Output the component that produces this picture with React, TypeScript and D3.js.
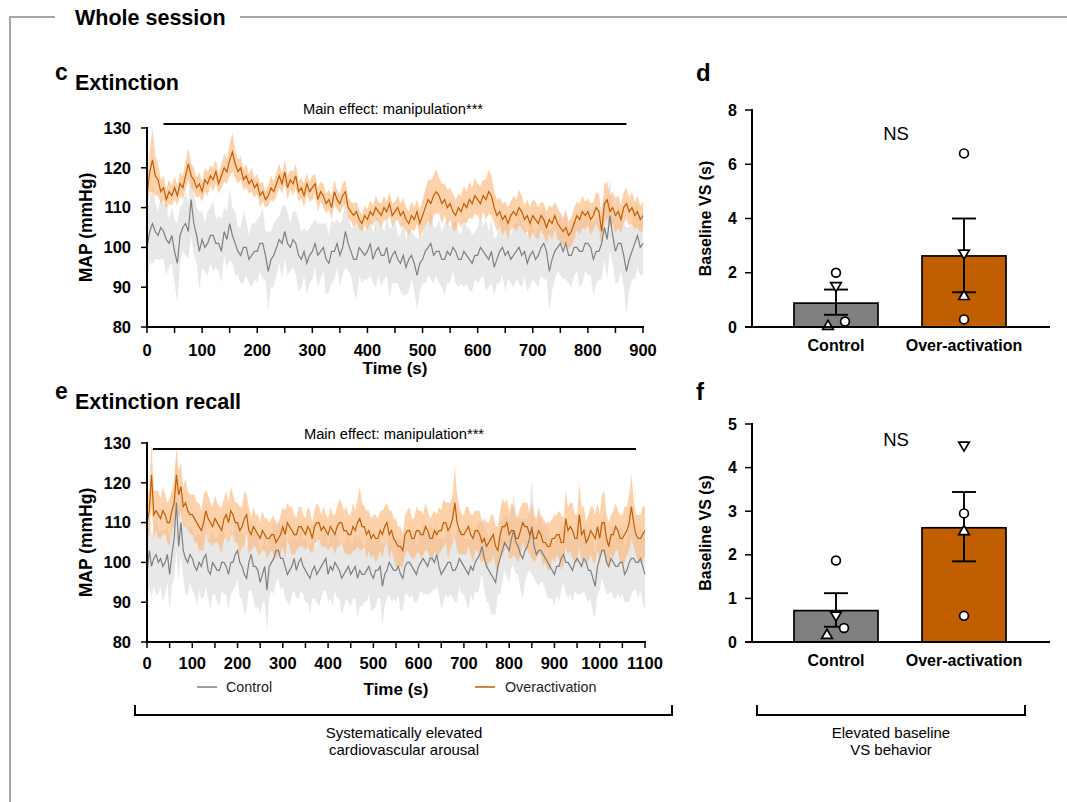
import React from 'react';
import * as d3 from 'd3';

// ---------- DATA ----------
// Extinction (0..900 s, every 5 s) mean MAP
const extOver = [
  113,119,122,118,117,114,115,112,114,113,115,113,116,115,118,121,118,117,115,116,
  114,117,116,118,117,119,116,118,120,119,122,124,121,119,120,117,118,116,117,115,
  116,113,114,112,113,115,114,116,118,116,119,115,117,116,118,114,115,113,116,114,
  115,116,112,114,113,111,112,110,114,112,111,113,114,110,109,108,109,107,106,108,
  107,109,108,110,109,108,110,109,111,108,109,110,108,109,107,106,108,107,109,106,
  108,110,112,111,113,114,113,111,112,110,111,109,108,110,109,111,110,112,111,113,
  112,111,113,112,114,113,110,108,109,107,108,106,108,109,108,110,109,107,108,106,
  108,107,106,108,107,105,107,106,108,106,105,104,105,103,104,106,108,107,109,108,
  109,107,108,110,109,104,111,112,109,110,108,109,107,110,111,109,110,108,109,107,
  108,
];
const extCtrl = [
  100,104,106,104,103,105,104,102,101,103,99,96,103,105,106,104,112,106,103,99,
  102,100,101,103,103,101,101,99,104,102,106,103,101,99,98,100,100,97,98,99,
  99,101,101,98,94,97,98,100,102,101,104,101,100,102,101,98,97,99,96,98,
  99,101,98,99,100,97,96,99,99,101,98,100,104,101,99,97,97,100,99,98,
  99,101,97,99,100,98,98,100,96,98,99,97,96,98,95,97,98,96,93,96,
  97,99,100,101,98,99,99,97,97,99,98,100,99,97,97,99,98,97,96,98,
  98,100,99,98,97,99,95,97,99,100,98,99,97,98,99,100,98,99,96,98,
  99,97,98,100,101,99,94,97,99,100,101,99,101,98,98,100,100,99,99,101,
  101,100,97,99,99,101,105,102,108,103,99,101,101,98,94,97,99,101,103,100,
  101,
];
// SEM half-widths (every 5 s)
const extOverSem = [
  3,5,8,5,4,3,3,2.5,3,2.5,3,2.5,3,3,3.5,4,3,3,2.5,3,
  2.5,3,3,2.5,3,3,2.5,3,3.5,3,4,5,3.5,3,3,2.5,3,2.5,3,2.5,
  2.5,3,2.5,2,2.5,3,2.5,3,3,2.5,3,3,2.5,3,3,2.5,2.5,3,2.5,2.5,
  3,2.5,3,2.5,3,2.5,2.5,3,3,2.5,2.5,3,3,2.5,2.5,3,2.5,2.5,2,2.5,
  2.5,3,2.5,3,2.5,3,3,2.5,3,3,2.5,3,3,3.5,3,3,3.5,3,3,3.5,
  4,4.5,5,6,5,5.5,4.5,5,4,4.5,4,4.5,4,3.5,4,4.5,4,4.5,4,4.5,
  4,4.5,4,5,5.5,5,4,4,3.5,4,3.5,4,3.5,4,4,4.5,4,3.5,4,4,
  4,4.5,4,3.5,4,4,3.5,4,3.5,4,3.5,3.5,4,3.5,3.5,4,3.5,4,4,3.5,
  3.5,4,3.5,4,4.5,4,5,4.5,4,4,4.5,4,3.5,4,4,3.5,4,3.5,4,3.5,
  3.5,
];
const extCtrlSem = [
  9,8,10,7,6,8,7,9,6,7,8,10,7,6,8,7,9,8,7,10,
  7,6,8,7,9,6,7,8,6,7,9,7,8,6,7,9,7,6,8,7,
  8,7,9,6,10,7,8,7,6,9,7,8,6,7,8,9,7,6,8,7,
  7,6,8,7,6,9,7,8,7,6,8,7,9,7,6,8,10,7,8,6,
  7,8,6,9,7,8,6,7,9,7,8,6,7,10,7,8,6,7,9,7,
  6,8,7,9,7,6,8,7,9,8,7,6,8,7,6,9,7,8,7,6,
  7,8,6,9,7,8,7,6,8,7,9,7,6,8,7,9,8,6,7,8,
  7,6,8,7,9,7,10,8,7,6,8,7,9,7,8,7,6,9,8,7,
  8,7,9,8,7,9,8,10,9,7,8,10,7,8,11,8,7,9,8,7,
  8,
];

// Extinction recall (0..1100 s, every 5 s)
const recOver = [
  110,113,122,112,113,112,111,113,112,110,110,113,115,122,117,119,114,115,113,112,
  112,111,110,109,108,110,113,111,110,109,111,110,109,108,111,112,110,113,112,110,
  110,108,109,111,112,108,107,109,108,107,106,108,107,106,106,107,107,105,106,107,
  109,107,110,109,108,107,107,109,109,108,107,109,108,106,109,110,110,108,109,108,
  107,109,108,107,109,110,110,108,108,107,107,109,108,110,111,109,109,107,108,106,
  107,106,106,108,107,109,110,107,108,106,105,104,104,103,107,108,108,106,106,108,
  108,107,107,109,108,106,106,108,107,108,108,110,110,108,109,111,115,110,108,107,
  107,108,109,107,106,108,108,107,105,106,104,105,106,107,104,103,107,109,109,110,
  107,108,108,106,106,108,110,109,109,107,108,106,106,108,107,105,105,104,104,106,
  106,107,107,105,105,111,108,109,108,106,106,112,107,108,105,106,108,107,106,109,
  106,110,110,106,104,107,107,109,108,106,106,107,108,110,114,110,107,106,106,107,
  108,
];
const recCtrl = [
  97,103,99,101,102,100,101,99,100,102,97,102,106,115,104,110,103,101,100,102,
  101,99,98,100,99,101,102,98,97,100,99,98,98,100,100,99,97,100,100,102,
  103,100,99,97,96,100,102,99,99,98,95,97,99,93,99,100,101,103,103,101,
  101,99,97,98,99,101,98,100,101,99,98,97,96,98,99,97,98,99,100,101,
  97,99,98,100,99,98,96,97,98,99,97,98,99,96,98,97,97,98,99,97,
  96,98,98,99,94,97,98,100,99,98,98,99,97,96,99,100,100,99,98,97,
  99,100,101,100,99,101,101,100,102,99,97,98,99,100,100,98,98,99,101,100,
  99,98,97,99,98,100,101,102,104,101,99,98,97,96,95,99,101,103,105,104,
  103,106,108,105,104,102,101,103,104,106,109,104,102,103,103,102,101,100,99,98,
  97,99,99,101,102,100,100,99,98,100,101,100,99,101,100,98,98,96,94,99,
  101,103,103,100,99,101,100,99,99,100,100,97,98,100,101,101,100,100,101,99,
  97,
];
const recOverSem = [
  5,6,8,6,5,6,5,6,5,5,6,5,6,7,6,6,5,6,5,5,
  5,6,5,6,5,7,5,6,5,5,6,5,5,6,5,6,5,6,5,5,
  5,6,5,7,5,6,4,5,4,5,4,5,4,5,4,4,5,4,4,5,
  5,6,5,5,6,5,4,5,5,4,4,5,5,4,4,5,4,4,5,4,
  4,5,4,5,5,6,5,5,6,5,5,6,5,6,8,6,5,6,5,5,
  5,6,5,5,6,5,5,6,5,5,6,5,5,4,5,5,6,5,5,6,
  5,6,5,6,5,5,6,5,5,6,5,6,5,7,6,6,9,7,6,5,
  5,6,5,5,6,5,5,6,5,5,6,5,6,5,5,6,6,7,6,6,
  6,7,6,5,6,6,5,6,6,5,7,6,5,6,5,6,5,6,6,5,
  6,5,6,7,6,7,6,6,7,6,6,8,7,6,5,6,6,7,6,6,
  6,7,8,6,6,5,6,6,5,6,6,7,6,7,8,6,5,6,6,7,
  6,
];
const recCtrlSem = [
  7,9,8,7,10,8,7,9,8,7,9,8,10,12,9,8,7,9,8,7,
  8,7,9,7,8,10,8,7,9,8,7,8,9,7,8,7,9,8,7,8,
  7,9,8,10,8,7,9,8,11,9,8,7,9,10,8,7,9,8,7,8,
  7,8,7,9,7,8,7,9,8,7,8,7,9,7,8,7,9,8,7,8,
  7,8,9,7,8,7,9,8,7,9,8,7,8,10,9,8,7,8,7,9,
  8,9,7,8,10,8,7,8,9,7,8,7,9,8,7,8,9,7,8,7,
  8,7,9,8,7,9,8,7,8,7,9,8,7,9,8,7,8,9,7,8,
  7,8,9,7,8,7,9,8,7,8,9,8,10,9,8,7,9,8,7,8,
  8,7,9,8,7,9,10,8,7,8,12,8,7,9,8,7,8,9,8,7,
  8,7,9,8,7,8,9,7,8,7,9,8,7,8,9,8,7,9,8,7,
  8,7,9,8,7,8,9,8,7,9,8,7,8,10,9,8,7,9,8,9,
  9,
];

const extTicks = [0, 100, 200, 300, 400, 500, 600, 700, 800, 900];
const recTicks = [0, 100, 200, 300, 400, 500, 600, 700, 800, 900, 1000, 1100];
const mapTicks = [80, 90, 100, 110, 120, 130];

// Bar panels
const groups = ['Control', 'Over-activation'];
const dMeans = [0.88, 2.62];
const dErrLow = [0.45, 1.28];
const dErrHigh = [1.38, 4.0];
const dCtrlPts = [2.0, 1.5, 0.05, 0.2];
const dOverPts = [6.4, 2.7, 1.15, 0.28];
const fMeans = [0.72, 2.62];
const fErrLow = [0.35, 1.85];
const fErrHigh = [1.12, 3.44];
const fCtrlPts = [1.87, 0.6, 0.17, 0.32];
const fOverPts = [2.95, 4.5, 2.55, 0.6];
const ptShapes = ['circle', 'down', 'up', 'circle'];
const dCtrlJit = [0, 0, -8, 9];
const dOverJit = [0, 0, 0, 0];
const fCtrlJit = [0, 0, -9, 8];
const fOverJit = [0, 0, 0, 0];
const dTicks = [0, 2, 4, 6, 8];
const fTicks = [0, 1, 2, 3, 4, 5];

// ---------- STYLE ----------
const FONT = '"Liberation Sans", Arial, Helvetica, sans-serif';
const ORANGE = '#c45c00';
const ORANGE_BAND = '#fbb574';
const GRAY = '#7f7f7f';
const GRAY_BAND = '#e6e6e6';

type TPProps = {
  left: number; right: number; top: number; bottom: number; xMax: number;
  ticks: number[]; over: number[]; ctrl: number[]; overSem: number[]; ctrlSem: number[];
  sig: [number, number]; sigY: number; letter: string; title: string; titleY: number;
  tickLabelDy: number; xLabelDy: number; legend?: boolean;
};

function TimePanel(p: TPProps) {
  const x = d3.scaleLinear().domain([0, p.xMax]).range([p.left, p.right]);
  const y = d3.scaleLinear().domain([80, 130]).range([p.bottom, p.top]);
  const step = 5;
  const line = d3.line<number>().x((_, i) => x(i * step)).y((v) => y(v));
  const bandFor = (mean: number[], sem: number[]) => {
    const pts = mean.map((m, i) => ({ t: i * step, m, s: sem[i] ?? 0 }));
    return d3.area<{ t: number; m: number; s: number }>()
      .x((d) => x(d.t)).y0((d) => y(d.m - d.s)).y1((d) => y(d.m + d.s))(pts) || '';
  };
  const minor = d3.range(0, p.xMax + 1, 50);
  const midX = (p.left + p.right) / 2;
  return (
    <g>
      <text x={55} y={p.titleY - 10} fontSize={23} fontWeight="bold">{p.letter}</text>
      <text x={75} y={p.titleY} fontSize={21.5} fontWeight="bold">{p.title}</text>
      <path d={bandFor(p.ctrl, p.ctrlSem)} fill={GRAY_BAND} fillOpacity={0.9} />
      <path d={bandFor(p.over, p.overSem)} fill={ORANGE_BAND} fillOpacity={0.62} />
      <path d={line(p.ctrl) || ''} fill="none" stroke={GRAY} strokeWidth={1.2} />
      <path d={line(p.over) || ''} fill="none" stroke={ORANGE} strokeWidth={1.2} />
      {/* axes */}
      <line x1={p.left} x2={p.left} y1={p.top - 1} y2={p.bottom + 1} stroke="#000" strokeWidth={2} />
      <line x1={p.left - 1} x2={p.right + 1} y1={p.bottom} y2={p.bottom} stroke="#000" strokeWidth={2} />
      {mapTicks.map((t) => (
        <g key={'y' + t}>
          <line x1={p.left - 6} x2={p.left} y1={y(t)} y2={y(t)} stroke="#000" strokeWidth={1.5} />
          <text x={p.left - 16} y={y(t)} dy="0.35em" textAnchor="end" fontSize={16.5} fontWeight="bold">{t}</text>
        </g>
      ))}
      {minor.map((t) => (
        <line key={'m' + t} x1={x(t)} x2={x(t)} y1={p.bottom} y2={p.bottom + 6} stroke="#000" strokeWidth={1.5} />
      ))}
      {p.ticks.map((t) => (
        <text key={'x' + t} x={x(t)} y={p.bottom + p.tickLabelDy} textAnchor="middle" fontSize={16.5} fontWeight="bold">{t}</text>
      ))}
      <text x={midX} y={p.bottom + p.xLabelDy} textAnchor="middle" fontSize={17} fontWeight="bold">Time (s)</text>
      <text transform={`translate(92,${(p.top + p.bottom) / 2}) rotate(-90)`} textAnchor="middle" fontSize={17.5} fontWeight="bold">MAP (mmHg)</text>
      {/* significance */}
      <text x={midX - 2} y={p.sigY - 10} textAnchor="middle" fontSize={14.7}>Main effect: manipulation***</text>
      <line x1={x(p.sig[0])} x2={x(p.sig[1])} y1={p.sigY} y2={p.sigY} stroke="#000" strokeWidth={2} />
      {p.legend && (
        <g fontSize={14.3} fill="#222">
          <line x1={197} x2={217} y1={p.bottom + 45} y2={p.bottom + 45} stroke={GRAY} strokeWidth={1.5} />
          <text x={226} y={p.bottom + 45} dy="0.35em">Control</text>
          <line x1={475} x2={495} y1={p.bottom + 45} y2={p.bottom + 45} stroke={ORANGE} strokeWidth={1.5} />
          <text x={505} y={p.bottom + 45} dy="0.35em">Overactivation</text>
        </g>
      )}
    </g>
  );
}

type BPProps = {
  top: number; bottom: number; yMax: number; ticks: number[];
  means: number[]; lo: number[]; hi: number[]; pts: number[][]; jit: number[][];
  letter: string; letterY: number; nsY: number;
};

function Marker({ cx, cy, shape }: { cx: number; cy: number; shape: string }) {
  const r = 4.4;
  if (shape === 'circle') return <circle cx={cx} cy={cy} r={r} fill="#fff" stroke="#000" strokeWidth={1.7} />;
  const s = 5.3;
  const d = shape === 'up'
    ? `M${cx},${cy - s} L${cx + s},${cy + s * 0.7} L${cx - s},${cy + s * 0.7} Z`
    : `M${cx},${cy + s} L${cx + s},${cy - s * 0.7} L${cx - s},${cy - s * 0.7} Z`;
  return <path d={d} fill="#fff" stroke="#000" strokeWidth={1.7} />;
}

function BarPanel(p: BPProps) {
  const axisX = 752;
  const xb = d3.scaleBand().domain(groups).range([794, 1006]).paddingInner(0.344).paddingOuter(0);
  const y = d3.scaleLinear().domain([0, p.yMax]).range([p.bottom, p.top]);
  const fills = [GRAY, '#c05e00'];
  return (
    <g>
      <text x={696} y={p.letterY} fontSize={24} fontWeight="bold">{p.letter}</text>
      {groups.map((g, i) => {
        const bx = xb(g) as number;
        const bw = xb.bandwidth();
        const cx = bx + bw / 2;
        return (
          <g key={g}>
            <rect x={bx} y={y(p.means[i])} width={bw} height={y(0) - y(p.means[i])} fill={fills[i]} stroke="#000" strokeWidth={1.7} />
            <line x1={cx} x2={cx} y1={y(p.lo[i])} y2={y(p.hi[i])} stroke="#000" strokeWidth={1.9} />
            <line x1={cx - 12} x2={cx + 12} y1={y(p.hi[i])} y2={y(p.hi[i])} stroke="#000" strokeWidth={1.9} />
            <line x1={cx - 12} x2={cx + 12} y1={y(p.lo[i])} y2={y(p.lo[i])} stroke="#000" strokeWidth={1.9} />
            {p.pts[i].map((v, k) => (
              <Marker key={k} cx={cx + p.jit[i][k]} cy={y(v)} shape={ptShapes[k]} />
            ))}
            <text x={cx} y={p.bottom + 24} textAnchor="middle" fontSize={16} fontWeight="bold">{g}</text>
          </g>
        );
      })}
      <line x1={axisX} x2={axisX} y1={p.top - 1} y2={p.bottom} stroke="#000" strokeWidth={2} />
      <line x1={745} x2={1050} y1={p.bottom} y2={p.bottom} stroke="#000" strokeWidth={2} />
      {p.ticks.map((t) => (
        <g key={t}>
          <line x1={axisX - 7} x2={axisX} y1={y(t)} y2={y(t)} stroke="#000" strokeWidth={1.5} />
          <text x={axisX - 15} y={y(t)} dy="0.35em" textAnchor="end" fontSize={16} fontWeight="bold">{t}</text>
        </g>
      ))}
      <text transform={`translate(711,${(p.top + p.bottom) / 2}) rotate(-90)`} textAnchor="middle" fontSize={16} fontWeight="bold">Baseline VS (s)</text>
      <text x={896} y={p.nsY} textAnchor="middle" fontSize={18.5}>NS</text>
    </g>
  );
}

export default function App() {
  return (
    <svg width={1067} height={802} style={{ position: 'absolute', left: 0, top: 0, display: 'block', background: '#fff' }} fontFamily={FONT}>
      {/* frame */}
      <path d="M10,802 L10,17 L55,17" fill="none" stroke="#a6a6a6" strokeWidth={2} />
      <line x1={240} x2={1067} y1={17} y2={17} stroke="#a6a6a6" strokeWidth={2} />
      <text x={75} y={25} fontSize={21.5} fontWeight="bold">Whole session</text>

      <TimePanel left={147} right={643} top={128} bottom={327} xMax={900} ticks={extTicks}
        over={extOver} ctrl={extCtrl} overSem={extOverSem} ctrlSem={extCtrlSem}
        sig={[30, 870]} sigY={124} letter="c" title="Extinction" titleY={90}
        tickLabelDy={29} xLabelDy={47} />
      <TimePanel left={147} right={645} top={443} bottom={642} xMax={1100} ticks={recTicks}
        over={recOver} ctrl={recCtrl} overSem={recOverSem} ctrlSem={recCtrlSem}
        sig={[13, 1080]} sigY={449} letter="e" title="Extinction recall" titleY={409}
        tickLabelDy={27} xLabelDy={53} legend />

      <BarPanel top={110} bottom={327} yMax={8} ticks={dTicks} means={dMeans} lo={dErrLow} hi={dErrHigh}
        pts={[dCtrlPts, dOverPts]} jit={[dCtrlJit, dOverJit]} letter="d" letterY={81} nsY={140} />
      <BarPanel top={424} bottom={642} yMax={5} ticks={fTicks} means={fMeans} lo={fErrLow} hi={fErrHigh}
        pts={[fCtrlPts, fOverPts]} jit={[fCtrlJit, fOverJit]} letter="f" letterY={400} nsY={446} />

      {/* brackets */}
      <path d="M135,705 L135,715 L672,715 L672,705" fill="none" stroke="#000" strokeWidth={2} />
      <text x={404} y={738} textAnchor="middle" fontSize={15}>Systematically elevated</text>
      <text x={404} y={755} textAnchor="middle" fontSize={15}>cardiovascular arousal</text>
      <path d="M757,705 L757,715 L1025,715 L1025,705" fill="none" stroke="#000" strokeWidth={2} />
      <text x={891} y={738} textAnchor="middle" fontSize={15}>Elevated baseline</text>
      <text x={891} y={755} textAnchor="middle" fontSize={15}>VS behavior</text>
    </svg>
  );
}
